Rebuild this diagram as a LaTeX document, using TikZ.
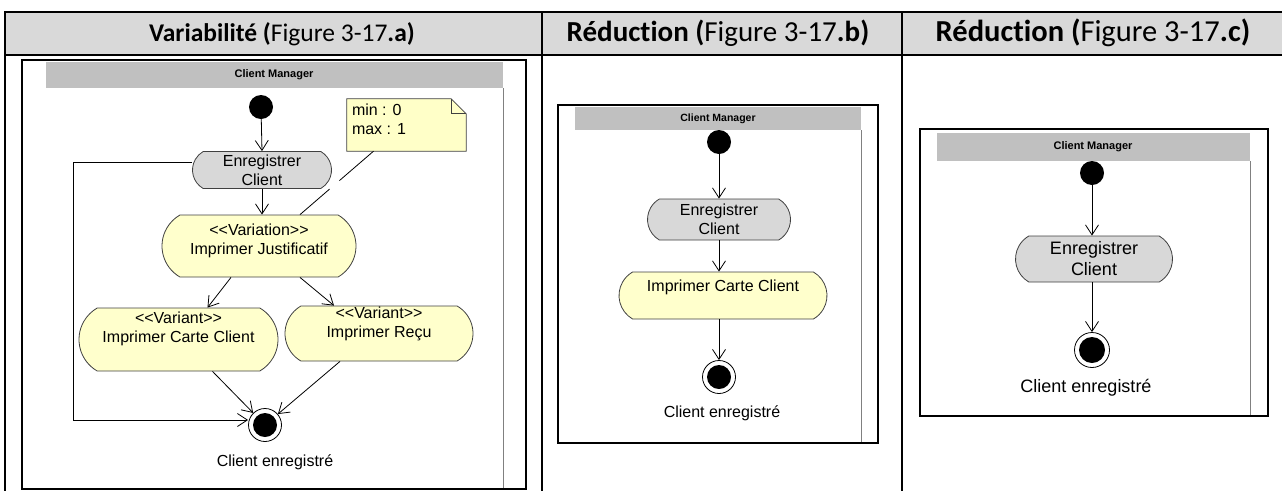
\documentclass[tikz,border=0pt]{standalone}
\usepackage{fontspec}
\setmainfont{Carlito}[Ligatures=NoCommon]
\newfontfamily\arial{Liberation Sans}
\usetikzlibrary{arrows.meta,shapes.misc}
\definecolor{headgray}{HTML}{D9D9D9}
\definecolor{bandgray}{HTML}{C0C0C0}
\definecolor{actgray}{HTML}{D8D8D8}
\definecolor{actyel}{HTML}{FFFFCC}
\definecolor{noteyel}{HTML}{FFFFC8}
\definecolor{edgegray}{HTML}{404040}
\tikzset{
  tabline/.style={line width=2.2pt,black},
  headtxt/.style={font=\fontsize{25.5}{30}\selectfont,anchor=base,inner sep=0pt},
  frame/.style={line width=2.4pt,black},
  band/.style={fill=bandgray,draw=none},
  bandtxt/.style={font=\arial\bfseries\fontsize{11}{13}\selectfont,inner sep=0pt},
  lane/.style={line width=0.8pt,gray},
  act/.style={rounded rectangle,rounded rectangle arc length=120,draw=edgegray,line width=0.8pt,align=center,inner sep=1pt},
  gact/.style={act,fill=actgray},
  yact/.style={act,fill=actyel},
  initnode/.style={circle,fill=black,inner sep=0pt},
  finnode/.style={circle,draw=black,line width=0.8pt,fill=white,inner sep=0pt},
  arr/.style={line width=0.8pt,-{Straight Barb[length=10pt,width=13pt,line width=0.8pt]}},
  plain/.style={line width=0.8pt},
  lbl/.style={inner sep=0pt}
}
\begin{document}
\begin{tikzpicture}[x=1pt,y=-1pt]
\useasboundingbox (0,0) rectangle (1282,491);
% table
\fill[headgray] (5,12) rectangle (1282,55);
\draw[tabline] (1282,12) -- (5,12) -- (5,491);
\draw[tabline] (5,55) -- (1282,55);
\draw[tabline] (542,12) -- (542,491);
\draw[tabline] (902,12) -- (902,491);
\node[headtxt] (ha) at (282,41) {\textbf{Variabilité (}Figure 3-17\textbf{.a)}};
\node[headtxt,font=\fontsize{29}{34}\selectfont] (hb) at (718,41) {\textbf{Réduction (}Figure 3-17\textbf{.b)}};
\node[headtxt,font=\fontsize{30.5}{36}\selectfont] (hc) at (1093,41) {\textbf{Réduction (}Figure 3-17\textbf{.c)}};

% ===== panel a =====
\fill[band] (46,62) rectangle (503,88);
\node[bandtxt] (cma) at (274,75) {Client Manager};
\draw[lane] (503,88) -- (503,488);
\draw[frame] (22,60) rectangle (526,489);
\begin{scope}[font=\arial\fontsize{16}{19}\selectfont]
\node[initnode,minimum size=24pt] (ia) at (261,107) {};
\node[gact,minimum width=141pt,minimum height=37pt] (ea) at (262,170) {Enregistrer\\Client};
\node[yact,minimum width=196pt,minimum height=62pt,text depth=14pt] (ja) at (259,246) {<<Variation>>\\Imprimer Justificatif};
\node[yact,minimum width=201pt,minimum height=63pt,text depth=24pt] (vl) at (178.5,339.5) {<<Variant>>\\Imprimer Carte Client};
\node[yact,minimum width=190pt,minimum height=55pt,text depth=22pt] (vr) at (379,333.5) {<<Variant>>\\Imprimer Reçu};
\node[finnode,minimum size=33pt] (fa) at (265,425) {};
\node[initnode,minimum size=24pt] (fai) at (fa) {};
\node[lbl] (ta) at (275,462) {Client enregistré};
% note
\node[inner sep=0pt,minimum width=119pt,minimum height=52pt] (na) at (406.5,125) {};
\filldraw[fill=noteyel,draw=edgegray,line width=0.8pt]
  (na.north west) -- ([xshift=-15pt]na.north east) -- ([yshift=-15pt]na.north east) -- (na.south east) -- (na.south west) -- cycle;
\draw[edgegray,line width=0.8pt] ([xshift=-15pt]na.north east) -- ([xshift=-15pt,yshift=-15pt]na.north east) -- ([yshift=-15pt]na.north east);
\node[lbl,anchor=north west,align=left] (nt) at ([xshift=5pt,yshift=-5pt]na.north west) {min : 0\\max : 1};
\end{scope}
\draw[arr] (ia) -- (ea.north);
\draw[arr] (ea.south) -- (ea.south |- ja.north);
\draw[arr] ([xshift=-28pt]ja.south) -- ([xshift=29pt]vl.north);
\draw[arr] ([xshift=41pt]ja.south) -- ([xshift=-45pt]vr.north);
\draw[arr] ([xshift=34pt]vl.south) -- (fa);
\draw[arr] ([xshift=-39pt]vr.south) -- (fa);
\draw[arr] ([yshift=8pt]ea.west) -| (73,420) -- ([yshift=5pt]fa.west);
\draw[plain,dash pattern=on 45pt off 13pt on 200pt] ([xshift=-33pt]na.south) -- ([xshift=41pt]ja.north);

% ===== panel b =====
\fill[band] (575,107) rectangle (861,130);
\node[bandtxt,font=\arial\bfseries\fontsize{10.5}{12}\selectfont] (cmb) at (718,118.5) {Client Manager};
\draw[lane] (861,130) -- (861,442);
\draw[frame] (558,105) rectangle (878,443);
\begin{scope}[font=\arial\fontsize{16}{19}\selectfont]
\node[initnode,minimum size=24pt] (ib) at (719,142) {};
\node[gact,minimum width=145pt,minimum height=41pt] (eb) at (719,219.5) {Enregistrer\\Client};
\node[yact,minimum width=210pt,minimum height=47pt,text depth=20pt] (cb) at (723,295.5) {Imprimer Carte Client};
\node[finnode,minimum size=33pt] (fb) at (719,377) {};
\node[initnode,minimum size=24pt] (fbi) at (fb) {};
\node[lbl] (tb) at (722,413) {Client enregistré};
\end{scope}
\draw[arr] (ib) -- (eb.north);
\draw[arr] (eb.south) -- (eb.south |- cb.north);
\draw[arr] (eb.south |- cb.south) -- (fb);

% ===== panel c =====
\fill[band] (937,133) rectangle (1250,161);
\node[bandtxt] (cmc) at (1093,147) {Client Manager};
\draw[lane] (1250,161) -- (1250,415);
\draw[frame] (920,129) rectangle (1268,416);
\begin{scope}[font=\arial\fontsize{18}{21}\selectfont]
\node[initnode,minimum size=24pt] (ic) at (1092,173) {};
\node[gact,minimum width=159pt,minimum height=46pt] (ec) at (1094,259) {Enregistrer\\Client};
\node[finnode,minimum size=35pt] (fc) at (1092,350) {};
\node[initnode,minimum size=26pt] (fci) at (fc) {};
\node[lbl] (tc) at (1086,388) {Client enregistré};
\end{scope}
\draw[arr] (ic) -- (ic |- ec.north);
\draw[arr] (ic |- ec.south) -- (fc);
\end{tikzpicture}
\end{document}
